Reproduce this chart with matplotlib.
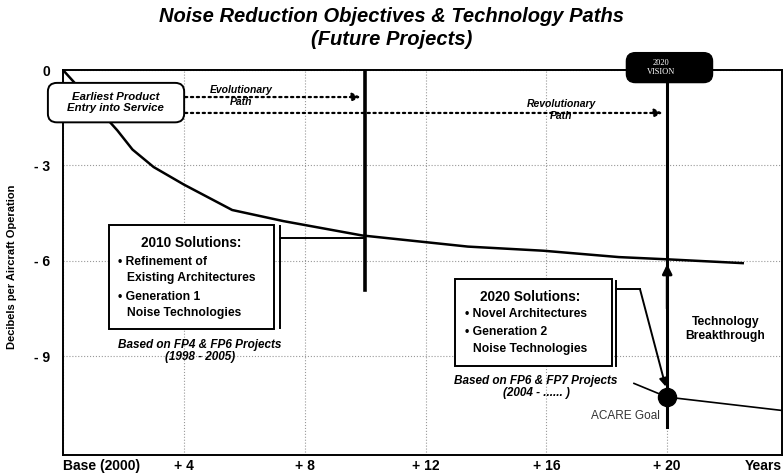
import matplotlib
matplotlib.use('Agg')
import matplotlib.pyplot as plt
from matplotlib.patches import FancyBboxPatch, Rectangle

plt.rcParams['font.family'] = ['Liberation Sans', 'DejaVu Sans']
plt.rcParams['font.weight'] = 'bold'

# 坐标轴刻度
x_ticks = [0, 4, 8, 12, 16, 20]
x_tick_labels = ['Base (2000)', '+ 4', '+ 8', '+ 12', '+ 16', '+ 20']
y_ticks = [0, -3, -6, -9]
y_tick_labels = ['0', '- 3', '- 6', '- 9']

# 演进路线曲线 (年, dB)
evo_years = [0, 1, 1.8, 2.3, 3, 4, 5.6, 7.3, 9.9, 13.4, 15.9, 18.4, 20, 22.5]
evo_db = [0, -1.05, -1.9, -2.5, -3.05, -3.6, -4.4, -4.75, -5.2, -5.55, -5.68, -5.88, -5.95, -6.07]

# ACARE 目标曲线
goal_years = [18.9, 20, 23.8]
goal_db = [-9.85, -10.28, -10.7]
acare_year = 20
acare_db = -10.28

# 2010 / 2020 里程碑
milestone_years = [10, 20]

fig = plt.figure(figsize=(7.83, 4.75), dpi=100)
ax = fig.add_axes([63 / 783, 20 / 475, 719 / 783, 385 / 475])
ax.set_xlim(0, 23.8)
ax.set_ylim(-12.1, 0)

# 网格和坐标轴
ax.set_xticks(x_ticks, x_tick_labels)
ax.set_yticks(y_ticks, y_tick_labels)
ax.tick_params(length=0, labelsize=10)
ax.tick_params(axis='x', pad=3)
ax.tick_params(axis='y', pad=9)
ax.get_xticklabels()[0].set_ha('left')
ax.grid(True, linestyle=':', color='#999999', linewidth=0.8)
ax.set_axisbelow(True)
for s in ax.spines.values():
    s.set_linewidth(1.4)
ax.text(1.0, -0.01, 'Years', transform=ax.transAxes, ha='right', va='top', fontsize=10)
ax.set_ylabel('Decibels per Aircraft Operation', fontsize=8, fontweight='bold')
ax.yaxis.set_label_coords(-0.064, 0.49)

fig.suptitle('Noise Reduction Objectives & Technology Paths\n(Future Projects)',
             fontsize=14.5, fontweight='bold', style='italic', y=0.985, linespacing=1.25)

# 曲线
ax.plot(evo_years, evo_db, color='black', linewidth=1.8, zorder=3)
ax.plot(goal_years, goal_db, color='black', linewidth=1.2, zorder=3)

# 里程碑竖线
ax.plot([milestone_years[0]] * 2, [0, -6.92], color='black', linewidth=2.6, zorder=4)
ax.plot([milestone_years[1]] * 2, [-0.4, -11.23], color='black', linewidth=2.2, zorder=4, clip_on=False)
ax.annotate('', xy=(milestone_years[1], -6.1), xytext=(milestone_years[1], -7.5),
            arrowprops=dict(arrowstyle='-|>', color='black', lw=2, mutation_scale=14,
                            shrinkA=0, shrinkB=0), zorder=5)
ax.plot([acare_year], [acare_db], 'o', color='black', markersize=13, zorder=6)

# 进化 / 革命路径
ax.annotate('', xy=(9.85, -0.85), xytext=(4.04, -0.85),
            arrowprops=dict(arrowstyle='-|>', linestyle=':', color='black', lw=1.6,
                            mutation_scale=12, shrinkA=0, shrinkB=0), zorder=5)
ax.annotate('', xy=(19.85, -1.35), xytext=(4.04, -1.35),
            arrowprops=dict(arrowstyle='-|>', linestyle=':', color='black', lw=1.6,
                            mutation_scale=12, shrinkA=0, shrinkB=0), zorder=5)
ax.text(5.9, -0.82, 'Evolutionary\nPath', ha='center', va='center', fontsize=7.5,
        style='italic', linespacing=1.2, zorder=6)
ax.text(16.5, -1.26, 'Revolutionary\nPath', ha='center', va='center', fontsize=7.5,
        style='italic', linespacing=1.2, zorder=6)

# Earliest Product 框
ax.add_patch(FancyBboxPatch((-0.45, -1.6), 4.41, 1.15, boxstyle='round,pad=0.05,rounding_size=0.3',
                            facecolor='white', edgecolor='black', linewidth=1.4, zorder=7,
                            clip_on=False, mutation_aspect=0.9))
ax.text(1.75, -1.03, 'Earliest Product\nEntry into Service', ha='center', va='center',
        fontsize=8.2, style='italic', zorder=8, linespacing=1.15)

# 2020 VISION 框
ax.add_patch(FancyBboxPatch((18.7, -0.35), 2.75, 0.85, boxstyle='round,pad=0.05,rounding_size=0.3',
                            facecolor='black', edgecolor='black', zorder=7, clip_on=False,
                            mutation_aspect=0.9))
ax.text(19.8, 0.09, '2020\nVISION', ha='center', va='center', fontsize=6, color='white',
        family='Liberation Serif', fontweight='normal', zorder=8, linespacing=1.2)

# 2010 Solutions 框
ax.add_patch(Rectangle((1.52, -8.14), 5.47, 3.27, facecolor='white', edgecolor='black',
                       linewidth=1.4, zorder=7))
ax.plot([7.19, 7.19], [-4.9, -8.11], color='black', linewidth=1.4, zorder=7)
ax.plot([7.19, 9.93], [-5.28, -5.28], color='black', linewidth=1.4, zorder=4)
ax.text(4.25, -5.44, '2010 Solutions:', ha='center', va='center', fontsize=9.8, zorder=8)
ax.text(1.82, -6.04, '• Refinement of', ha='left', va='center', fontsize=8.7, zorder=8)
ax.text(2.12, -6.54, 'Existing Architectures', ha='left', va='center', fontsize=8.7, zorder=8)
ax.text(1.82, -7.12, '• Generation 1', ha='left', va='center', fontsize=8.7, zorder=8)
ax.text(2.12, -7.65, 'Noise Technologies', ha='left', va='center', fontsize=8.7, zorder=8)
ax.text(4.54, -8.84, 'Based on FP4 & FP6 Projects\n(1998 - 2005)', ha='center', va='center',
        fontsize=8.5, style='italic', zorder=8, linespacing=1.05)

# 2020 Solutions 框
ax.add_patch(Rectangle((12.98, -9.31), 5.2, 2.74, facecolor='white', edgecolor='black',
                       linewidth=1.4, zorder=7))
ax.plot([18.3, 18.3], [-6.63, -9.31], color='black', linewidth=1.4, zorder=7)
ax.annotate('', xy=(19.95, -9.95), xytext=(19.1, -6.89),
            arrowprops=dict(arrowstyle='-|>', color='black', lw=1.4, mutation_scale=12,
                            shrinkA=0, shrinkB=0), zorder=5)
ax.plot([18.3, 19.1], [-6.89, -6.89], color='black', linewidth=1.4, zorder=5)
ax.text(15.46, -7.14, '2020 Solutions:', ha='center', va='center', fontsize=9.8, zorder=8)
ax.text(13.31, -7.67, '• Novel Architectures', ha='left', va='center', fontsize=8.7, zorder=8)
ax.text(13.31, -8.22, '• Generation 2', ha='left', va='center', fontsize=8.7, zorder=8)
ax.text(13.56, -8.77, 'Noise Technologies', ha='left', va='center', fontsize=8.7, zorder=8)
ax.text(15.66, -9.97, 'Based on FP6 & FP7 Projects\n(2004 - ...... )', ha='center', va='center',
        fontsize=8.5, style='italic', zorder=8, linespacing=1.05)

ax.text(21.92, -8.14, 'Technology\nBreakthrough', ha='center', va='center', fontsize=8.7,
        zorder=8, linespacing=1.15)
ax.text(19.75, -10.88, 'ACARE Goal', ha='right', va='center', fontsize=8.5,
        fontweight='normal', color='#333333', zorder=8)

fig.savefig('out.png', dpi=100)
